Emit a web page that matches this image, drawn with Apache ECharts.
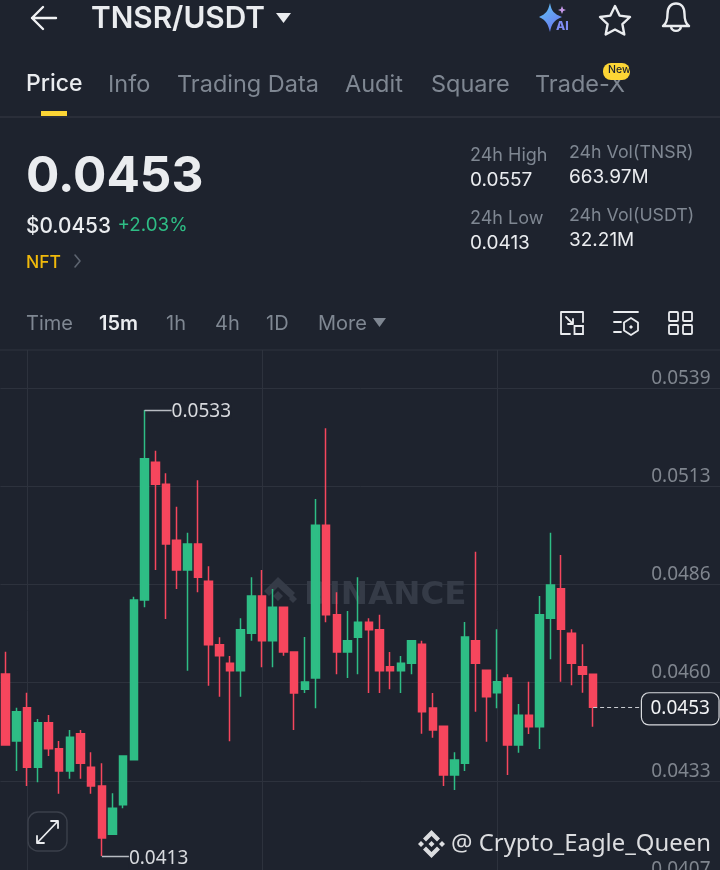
<!DOCTYPE html>
<html><head><meta charset="utf-8">
<style>html,body{margin:0;padding:0;background:#1e232e}#c{width:720px;height:870px}</style>
<script src="https://cdn.jsdelivr.net/npm/echarts@6/dist/echarts.min.js"></script>
</head><body><div id="c"></div>
<script>
const opens =[.046197,.044395,.045292,.043686,.044888,.044188,.043588,.044592,.043686,.043184,.041884,.042682,.043893,.048188,.051892,.0513,.049794,.048995,.049695,.04869,.046986,.046484,.046287,.047291,.048296,.047094,.047991,.046789,.045785,.04609,.050197,.047794,.046789,.047184,.047587,.04739,.046395,.046287,.046484,.046995,.045283,.044789,.04348,.043794,.047095,.046296,.045695,.04609,.044288,.045086,.044781,.047695,.048494,.047292,.046395,.046189];
const closes=[.044287,.045184,.043686,.044888,.044188,.043588,.044493,.043794,.043184,.041785,.042583,.043991,.048188,.051991,.0513,.049695,.048995,.049695,.048798,.046986,.046691,.046287,.04739,.048296,.047094,.047991,.046789,.045686,.045982,.050197,.047794,.046789,.047094,.047587,.04739,.046287,.046287,.046484,.047094,.045184,.044691,.04348,.043884,.047193,.046485,.045588,.045991,.044288,.045086,.044781,.047794,.048592,.047399,.046485,.046189,.0453];
const highs =[.046798,.045292,.045695,.044987,.045094,.044395,.044691,.044691,.04409,.043794,.042987,.043991,.048278,.0533,.052206,.051596,.050699,.05,.051408,.049094,.047184,.046682,.047695,.048798,.048995,.048484,.047991,.046789,.047193,.050906,.052807,.048395,.047892,.048798,.047695,.047794,.046789,.046682,.047094,.047094,.045686,.044789,.04409,.047596,.049489,.046296,.047399,.046189,.045391,.045991,.048296,.05,.049399,.047399,.046996,.046189];
const lows  =[.044287,.043588,.043184,.043283,.043991,.042978,.043381,.043381,.042978,.0413,.041884,.042583,.043893,.047991,.048995,.047677,.048484,.046287,.048395,.045883,.045587,.044386,.045587,.047094,.046377,.046377,.046691,.044691,.045686,.045274,.047587,.046188,.04609,.046188,.045686,.045686,.045785,.045686,.046188,.044592,.044484,.043184,.043076,.043588,.045184,.044377,.045274,.04348,.044081,.044583,.04418,.046592,.045991,.045893,.045695,.044781];
const yTicks=[.053892,.051255,.048619,.045969,.043319,.040682];
const verticalGridAt=[2,24,46];
const highMark={index:13,value:0.0533,label:'0.0533'};
const lowMark={index:9,value:0.0413,label:'0.0413'};
const lastPrice=0.0453;
const categories=[];for(let i=0;i<68;i++)categories.push('c'+i);

const BG='#1e232e',WHITE='#eaecef',GRAY='#7f8792',GREEN='#2ebd85',RED='#f6465d',YEL='#f0b90b',LINE='#2d323d';
const F='Inter';
let shapeId=0;
function T(text,x,y,size,fill,weight,family,z){return{type:'text',x,y:y+(family?0:1.5),z:z||10,silent:true,style:{text,fontSize:size,fill,fontWeight:weight||400,fontFamily:family||F,verticalAlign:'middle',align:'left'}}}
function P(pathD,x,y,stroke,fill,lw,z){
 const name='icon'+(shapeId++);
 echarts.graphic.registerShape(name,echarts.graphic.extendPath(pathD,{}));
 return{type:name,x,y,z:z||10,silent:true,style:{stroke:stroke||null,fill:fill||'none',lineWidth:lw||2,lineCap:'round',lineJoin:'round'}}}
function R(x,y,w,h,r,fill,stroke,lw,z){return{type:'rect',z:z||10,silent:true,shape:{x,y,width:w,height:h,r},style:{fill:fill||'none',stroke:stroke||null,lineWidth:lw||1}}}
const sparkle={type:'linear',x:0,y:0,x2:1,y2:1,colorStops:[{offset:0,color:'#5ec8f5'},{offset:1,color:'#6d6cf0'}]};
const CREDIT='#dcdde0';
const graphics=[
 R(0,116.5,720,1,0,'#363b45'),
 R(0,349.5,720,1,0,'#2f343f'),
 P('M56 18H32M43 7L32 18L43 29',0,0,'#f0f1f3',null,2.4),
 T('TNSR/USDT',91,18,29.8,WHITE,600),
 P('M276 13H291L283.5 23Z',0,0,null,WHITE,1),
 P('M550 3C551.5 11 554 14 562 17C554 20 551.5 24 550 32C548 24 546 20 539 17C546 14 548 11 550 3Z',0,0,null,sparkle,1),
 P('M562 6L563.2 9L566 10L563.2 11L562 14L560.8 11L558 10L560.8 9Z',0,0,null,'#c79ae8',1),
 T('AI',556,25,12,'#7f8cf3',800),
 P('M615 6L619.6 15.6L630 17L622.4 24.2L624.3 34.5L615 29.5L605.7 34.5L607.6 24.2L600 17L610.4 15.6Z',0,0,WHITE,null,2.4),
 P('M663 26C666 24 667.5 21 667.5 14C667.5 7 671 3.5 676 3.5C681 3.5 684.5 7 684.5 14C684.5 21 686 24 689 26ZM671 26C671 32.5 681 32.5 681 26',0,0,WHITE,null,2.4),
 T('Price',26,83,23,WHITE,500),
 T('Info',108,83,23.5,GRAY,400),
 T('Trading Data',177,83,23.5,GRAY,400),
 T('Audit',345,83,23.5,GRAY,400),
 T('Square',431,83,23.5,GRAY,400),
 T('Trade-X',535,83,23.5,GRAY,400),
 R(603,63,27,17,8,'#fcd535',null,1,11),
 T('New',608,70,10.5,'#1e232e',500,F,12),
 R(41,111,26,5,0,'#fcd535'),
 T('0.0453',26,176,49.5,WHITE,700),
 T('$0.0453',26,225,20.8,WHITE,500),
 T('+2.03%',117.5,224,18.8,GREEN,400),
 T('NFT',26,261,17.5,YEL,500),
 P('M75 255L80 261L75 267',0,0,'#5d6470',null,1.6),
 T('24h High',470,154,18,GRAY),
 T('0.0557',470,179,19,WHITE),
 T('24h Low',470,217,18,GRAY),
 T('0.0413',470,242,19,WHITE),
 T('24h Vol(TNSR)',569,151,17.8,GRAY),
 T('663.97M',569,176,19,WHITE),
 T('24h Vol(USDT)',569,214,17.8,GRAY),
 T('32.21M',569,239,19,WHITE),
 T('Time',26,322,20,GRAY),
 T('15m',99,322,20,WHITE,600),
 T('1h',166,322,20,GRAY),
 T('4h',215,322,20,GRAY),
 T('1D',266,322,20,GRAY),
 T('More',318,322,20,GRAY),
 P('M373 318H386L379.5 327Z',0,0,null,GRAY,1),
 P('M570 334H561V312H583V322M566 317L573 324M573 319V324H568',0,0,WHITE,null,1.8),
 R(574.5,326,8.5,8,0,null,WHITE,1.8),
 P('M614 312H638M614 322H621M614 332H621',0,0,WHITE,null,1.8),
 P('M631 318L638 322.5V330.5L631 335L624 330.5V322.5Z',0,0,WHITE,null,1.8),
 P('M631 325L633 327L631 329L629 327Z',0,0,null,WHITE,1),
 R(669,312,9,9,1,null,WHITE,1.8),R(683,312,9,9,1,null,WHITE,1.8),
 R(669,325,9,9,1,null,WHITE,1.8),R(683,325,9,9,1,null,WHITE,1.8),
 P('M278 577L264 591L269 596L278 587L290 598L295 593ZM278 591L273 596L278 601L283 596ZM293 595L289 599L293 603L297 599Z',0,0,null,'#353b47',1,1),
 T('BINANCE',304,596,32.5,'#353b47',700,'DejaVu Sans',1),
 R(28,812,39,39,10,BG,'#3b404b',1.4,20),
 P('M37 843L58 821M51 821H58V828M37 836V843H44',0,0,WHITE,null,1.8,21),
 P('M431.5 830L440 838.5L437 841.5L431.5 836L426 841.5L423 838.5Z',0,0,null,CREDIT,1,30),
 P('M431.5 858L440 849.5L437 846.5L431.5 852L426 846.5L423 849.5Z',0,0,null,CREDIT,1,30),
 P('M431.5 841L434.5 844L431.5 847L428.5 844Z',0,0,null,CREDIT,1,30),
 P('M421 841L424 844L421 847L418 844Z',0,0,null,CREDIT,1,30),
 P('M442 841L445 844L442 847L439 844Z',0,0,null,CREDIT,1,30),
 T('@ Crypto_Eagle_Queen',451,844,23.9,CREDIT,400,'Noto Sans',30)
];
const option={
 animation:false,backgroundColor:BG,
 grid:{left:0.4,top:350,width:726.2,height:540,containLabel:false,outerBoundsMode:'none'},
 xAxis:{type:'category',data:categories,boundaryGap:true,axisLine:{show:false},axisTick:{show:false},axisLabel:{show:false},
  splitLine:{show:true,alignWithLabel:true,interval:(i)=>verticalGridAt.includes(i),lineStyle:{color:LINE,width:1}}},
 yAxis:{type:'value',position:'right',scale:true,min:0.040386,max:0.054914,
  axisLine:{show:false},axisTick:{show:false,customValues:yTicks},
  axisLabel:{inside:true,margin:16,customValues:yTicks,verticalAlign:'bottom',color:'#7f858e',fontSize:19,fontFamily:'Noto Sans',formatter:v=>v.toFixed(4)},
  splitLine:{show:true,lineStyle:{color:LINE,width:1}}},
 graphic:graphics,
 series:[{type:'candlestick',barWidth:8,
  data:opens.map((o,i)=>[o,closes[i],lows[i],highs[i]]),
  itemStyle:{color:GREEN,color0:RED,borderColor:GREEN,borderColor0:RED,borderWidth:1.5},
  markLine:{silent:true,symbol:'none',animation:false,data:[
   [{coord:[highMark.index,highMark.value],lineStyle:{color:'#b8bcc2',width:1.3,type:'solid'},label:{show:true,position:'end',distance:1,offset:[-6,2],backgroundColor:BG,formatter:highMark.label,color:'#d8dade',fontSize:19,fontFamily:'Noto Sans'}},{coord:[16,highMark.value]}],
   [{coord:[lowMark.index,lowMark.value],lineStyle:{color:'#b8bcc2',width:1.3,type:'solid'},label:{show:true,position:'end',distance:1,offset:[-6,3],backgroundColor:BG,formatter:lowMark.label,color:'#d8dade',fontSize:19,fontFamily:'Noto Sans'}},{coord:[12,lowMark.value]}],
   [{coord:[55,lastPrice],lineStyle:{color:'#c9ccd1',width:1.2,type:[4,3]},label:{show:true,position:'end',distance:0,offset:[-4.5,1.5],formatter:lastPrice.toFixed(4),color:'#f2f3f5',fontSize:19,fontFamily:'Noto Sans',padding:[6,8.5,6,8.5],borderColor:'#d8dade',borderWidth:1.2,borderRadius:7,backgroundColor:BG}},{coord:[60,lastPrice]}]
  ]}
 }]
};
echarts.init(document.getElementById('c'),null,{renderer:'canvas',width:720,height:870}).setOption(option);
</script></body></html>
